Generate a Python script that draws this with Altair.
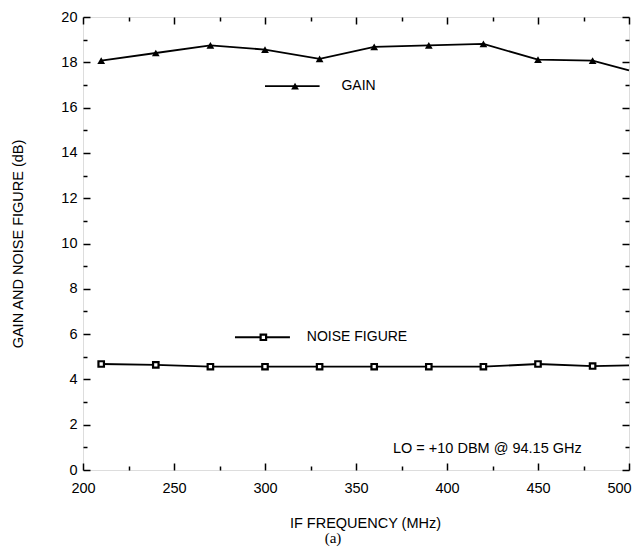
import altair as alt
import pandas as pd

# ---- data ----
freq = [210, 240, 270, 300, 330, 360, 390, 420, 450, 480, 500]
gain = [18.07, 18.41, 18.75, 18.56, 18.15, 18.68, 18.75, 18.81, 18.12, 18.07, 17.64]
noise = [4.68, 4.64, 4.56, 4.56, 4.56, 4.56, 4.56, 4.56, 4.68, 4.59, 4.62]
marker_count = 10  # last point (500 MHz) has no marker

x_major = [200, 250, 300, 350, 400, 450, 500]
x_minor = [225, 275, 325, 375, 425, 475]
y_major = [0, 2, 4, 6, 8, 10, 12, 14, 16, 18, 20]
y_minor = [1, 3, 5, 7, 9, 11, 13, 15, 17, 19]

x_title = "IF FREQUENCY (MHz)"
y_title = "GAIN AND NOISE FIGURE (dB)"
annotation = "LO = +10 DBM @ 94.15 GHz"
caption = "(a)"

# legend keys (data coordinates)
gain_key = {"x1": 300, "x2": 330, "xm": 316.5, "y": 16.95, "xt": 342, "label": "GAIN"}
noise_key = {"x1": 283.5, "x2": 313.7, "xm": 299.1, "y": 5.86, "xt": 323, "label": "NOISE FIGURE"}
annot_pos = {"x": 370.3, "y": 0.93}

FONT = "Liberation Sans"

df = pd.DataFrame({"freq": freq, "gain": gain, "noise": noise})
dfm = df.iloc[:marker_count]

xs = alt.Scale(domain=[200, 500], nice=False, zero=False)
ys = alt.Scale(domain=[0, 20], nice=False, zero=False)


def xax(orient, values, size, labels=False, title=None, **extra):
    kw = dict(orient=orient, values=values, tickSize=size, offset=-size, domain=False,
              grid=False, labels=labels, tickColor="black", tickWidth=1.5)
    if labels:
        kw.update(labelFont=FONT, labelFontSize=14.5, labelColor="black", labelFlush=False,
                  format="d")
    if title:
        kw.update(title=title, titleFont=FONT, titleFontSize=14.5, titleFontWeight="normal",
                  titleColor="black")
    else:
        kw.update(title=None)
    kw.update(extra)
    return alt.Axis(**kw)


gain_line = alt.Chart(df).mark_line(color="black", strokeWidth=1.8).encode(
    x=alt.X("freq:Q", scale=xs, axis=xax("bottom", x_major, 7, labels=True, title=x_title,
                                         labelPadding=11, titleX=282, titleY=64,
                                         titleAlign="center", titleBaseline="alphabetic",
                                         labelOffset=alt.expr("datum.value == 500 ? -10 : 0"))),
    y=alt.Y("gain:Q", scale=ys, axis=xax("left", y_major, 7, labels=True, title=y_title,
                                         labelPadding=6, titlePadding=35)),
)
gain_pts = alt.Chart(dfm).mark_point(shape="triangle-up", filled=True, color="black", size=60, opacity=1).encode(
    x=alt.X("freq:Q", scale=xs, axis=xax("top", x_major, 7)),
    y=alt.Y("gain:Q", scale=ys, axis=xax("right", y_major, 7)),
)
noise_line = alt.Chart(df).mark_line(color="black", strokeWidth=1.8).encode(
    x=alt.X("freq:Q", scale=xs, axis=xax("bottom", x_minor, 4)),
    y=alt.Y("noise:Q", scale=ys, axis=xax("left", y_minor, 4)),
)
noise_pts = alt.Chart(dfm).mark_point(shape="square", filled=True, fill="white", stroke="black",
                                      strokeWidth=2.2, size=30, opacity=1).encode(
    x=alt.X("freq:Q", scale=xs, axis=xax("top", x_minor, 4)),
    y=alt.Y("noise:Q", scale=ys, axis=xax("right", y_minor, 4)),
)

keys = pd.DataFrame([gain_key, noise_key])
key_lines = alt.Chart(keys).mark_rule(color="black", strokeWidth=1.8).encode(
    x=alt.X("x1:Q", scale=xs, axis=None), x2="x2:Q",
    y=alt.Y("y:Q", scale=ys, axis=None),
)
key_tri = alt.Chart(keys.iloc[:1]).mark_point(shape="triangle-up", filled=True, color="black", size=60, opacity=1).encode(
    x=alt.X("xm:Q", scale=xs, axis=None), y=alt.Y("y:Q", scale=ys, axis=None),
)
key_sq = alt.Chart(keys.iloc[1:]).mark_point(shape="square", filled=True, fill="white", stroke="black",
                                            strokeWidth=2.2, size=30, opacity=1).encode(
    x=alt.X("xm:Q", scale=xs, axis=None), y=alt.Y("y:Q", scale=ys, axis=None),
)
key_text = alt.Chart(keys).mark_text(align="left", baseline="middle", font=FONT, fontSize=14, color="black").encode(
    x=alt.X("xt:Q", scale=xs, axis=None), y=alt.Y("y:Q", scale=ys, axis=None), text="label:N",
)
annot = alt.Chart(pd.DataFrame([{**annot_pos, "t": annotation}])).mark_text(
    align="left", baseline="middle", font=FONT, fontSize=14.5, color="black").encode(
    x=alt.X("x:Q", scale=xs, axis=None), y=alt.Y("y:Q", scale=ys, axis=None), text="t:N",
)

chart = alt.layer(
    gain_line, gain_pts, noise_line, noise_pts, key_lines, key_tri, key_sq, key_text, annot
).resolve_axis(x="independent", y="independent").properties(
    width=546, height=453,
    autosize="none",
    padding={"left": 75, "top": 9, "right": 4, "bottom": 80},
    title=alt.TitleParams(caption, orient="bottom", font="Liberation Serif", fontSize=15,
                          fontWeight="normal", color="black", offset=1, dx=-23),
).configure_view(stroke="black", strokeWidth=1.5).configure(background="white")

chart.save("out.html", embed_options={"renderer": "svg", "actions": False})
